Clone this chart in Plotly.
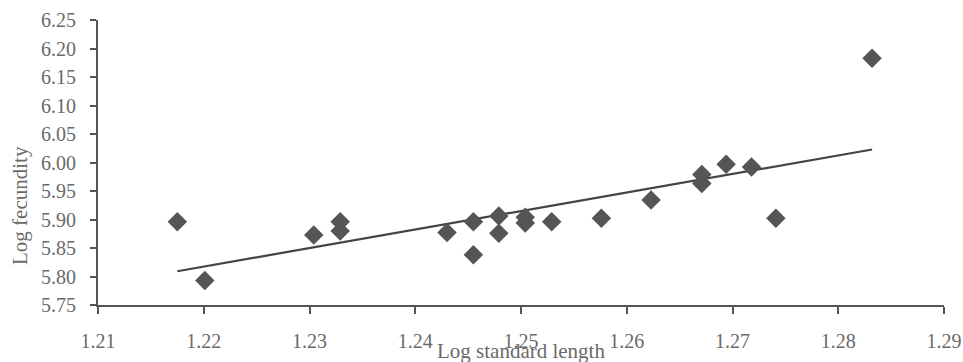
import numpy as np
import plotly.graph_objects as go

log_length = [1.2175, 1.2201, 1.2304, 1.2329, 1.2329, 1.2430, 1.2455, 1.2455,
              1.2479, 1.2479, 1.2504, 1.2504, 1.2529, 1.2576, 1.2623, 1.2671,
              1.2671, 1.2694, 1.2718, 1.2741, 1.2832]
log_fecundity = [5.896, 5.793, 5.873, 5.896, 5.880, 5.877, 5.896, 5.838,
                 5.906, 5.876, 5.904, 5.894, 5.896, 5.902, 5.934, 5.979,
                 5.963, 5.997, 5.992, 5.902, 6.183]
x_ticks = [1.21, 1.22, 1.23, 1.24, 1.25, 1.26, 1.27, 1.28, 1.29]
y_ticks = [5.75, 5.80, 5.85, 5.90, 5.95, 6.00, 6.05, 6.10, 6.15, 6.20, 6.25]

slope, intercept = np.polyfit(log_length, log_fecundity, 1)
tx = [min(log_length), max(log_length)]
ty = [intercept + slope * v for v in tx]

font_family = "Liberation Serif, Times New Roman, serif"
text_col = "#6a6a6a"

fig = go.Figure()
fig.add_trace(go.Scatter(x=tx, y=ty, mode="lines",
                         line=dict(color="#444444", width=2.2), hoverinfo="skip"))
fig.add_trace(go.Scatter(x=log_length, y=log_fecundity, mode="markers",
                         marker=dict(symbol="diamond", size=15, color="#555555",
                                     line=dict(width=0))))

fig.update_layout(
    width=963, height=362,
    margin=dict(l=98, r=19, t=20, b=57),
    paper_bgcolor="white", plot_bgcolor="white",
    showlegend=False,
    font=dict(family=font_family, size=20, color=text_col),
    xaxis=dict(range=[1.21, 1.29], tickvals=x_ticks,
               ticktext=[f"{v:.2f}" for v in x_ticks],
               showgrid=False, zeroline=False, showline=True,
               linecolor="#555555", linewidth=2,
               ticks="outside", ticklen=7, tickcolor="#555555", tickwidth=1.5,
               ticklabelstandoff=10, automargin=False),
    yaxis=dict(range=[5.75, 6.25], tickvals=y_ticks,
               ticktext=[f"{v:.2f}" for v in y_ticks],
               showgrid=False, zeroline=False, showline=True,
               linecolor="#555555", linewidth=2,
               ticks="outside", ticklen=6, tickcolor="#555555", tickwidth=1.5,
               ticklabelstandoff=10, automargin=False),
    annotations=[
        dict(text="Log standard length", xref="paper", yref="paper",
             x=0.5, y=(305 - 351) / 285, xanchor="center", yanchor="middle",
             showarrow=False, font=dict(size=21, color=text_col, family=font_family)),
        dict(text="Log fecundity", xref="paper", yref="paper",
             x=(20 - 98) / 846, y=(305 - 206) / 285, xanchor="center", yanchor="middle",
             textangle=-90, showarrow=False,
             font=dict(size=21, color=text_col, family=font_family)),
    ],
)

fig.write_html("out.html", config={"displayModeBar": False},
               post_script="document.body.style.margin='0px';document.body.style.overflow='hidden';")
